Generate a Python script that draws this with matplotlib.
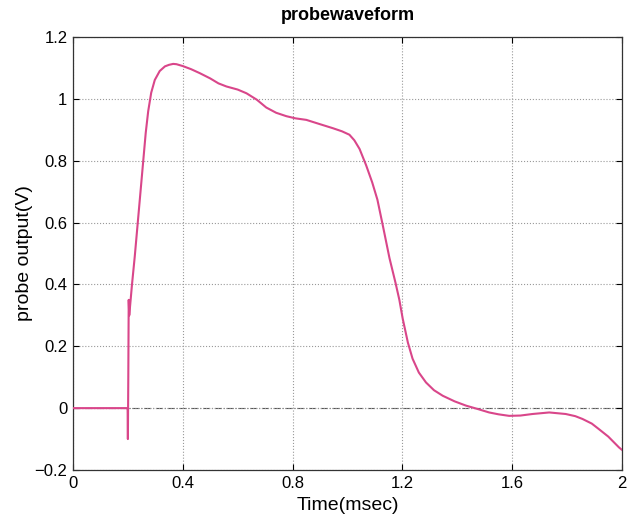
import matplotlib
matplotlib.use("Agg")
import matplotlib.pyplot as plt

plt.rcParams['font.family'] = ['Liberation Sans', 'DejaVu Sans']

time_ms = [0.00, 0.05, 0.10, 0.15, 0.195, 0.199, 0.200, 0.2015, 0.203, 0.205, 0.207,
           0.215, 0.225, 0.238, 0.247, 0.256, 0.265, 0.274, 0.285, 0.298, 0.316, 0.335,
           0.350, 0.365, 0.377,
           0.40, 0.43, 0.462, 0.50, 0.53, 0.559, 0.60, 0.632, 0.67, 0.704, 0.74, 0.777,
           0.81, 0.85, 0.90, 0.947, 0.98, 1.007, 1.025, 1.044, 1.068, 1.09, 1.109,
           1.13, 1.153, 1.175, 1.189, 1.201, 1.22, 1.237, 1.26, 1.286, 1.315, 1.347,
           1.39, 1.432, 1.475, 1.516, 1.55, 1.589, 1.63, 1.674, 1.735, 1.795, 1.83,
           1.856, 1.89, 1.916, 1.95, 1.989, 2.00]
probe_v = [0.000, 0.000, 0.000, 0.000, 0.000, 0.000, -0.100, 0.100, 0.350, 0.300, 0.320,
           0.400, 0.490, 0.620, 0.710, 0.800, 0.890, 0.960, 1.020, 1.061, 1.090, 1.105,
           1.110, 1.113, 1.112,
           1.106, 1.096, 1.083, 1.066, 1.050, 1.040, 1.030, 1.018, 0.997, 0.972, 0.955, 0.944,
           0.937, 0.932, 0.918, 0.905, 0.895, 0.884, 0.866, 0.838, 0.785, 0.730, 0.674,
           0.585, 0.485, 0.405, 0.350, 0.290, 0.212, 0.160, 0.115, 0.083, 0.058, 0.040,
           0.022, 0.008, -0.003, -0.014, -0.020, -0.025, -0.024, -0.019, -0.014, -0.019, -0.026,
           -0.035, -0.050, -0.068, -0.092, -0.127, -0.135]

x_ticks = [0, 0.4, 0.8, 1.2, 1.6, 2]
x_tick_labels = ['0', '0.4', '0.8', '1.2', '1.6', '2']
y_ticks = [-0.2, 0, 0.2, 0.4, 0.6, 0.8, 1.0, 1.2]
y_tick_labels = ['\u22120.2', '0', '0.2', '0.4', '0.6', '0.8', '1', '1.2']

fig = plt.figure(figsize=(6.33, 5.18), dpi=100)
ax = fig.add_axes([0.1153, 0.0927, 0.8673, 0.8359])

ax.axhline(0, color='#555555', lw=0.8, ls='-.', zorder=1)
ax.plot(time_ms, probe_v, color='#d9468a', lw=1.5, zorder=3)

ax.set_xlim(0, 2)
ax.set_ylim(-0.2, 1.2)
ax.set_xticks(x_ticks)
ax.set_xticklabels(x_tick_labels)
ax.set_yticks(y_ticks)
ax.set_yticklabels(y_tick_labels)
ax.grid(True, color='#999999', ls=':', lw=0.8)
ax.tick_params(direction='in', top=True, right=True, labelsize=12, length=4, pad=4)
for s in ax.spines.values():
    s.set_linewidth(0.9)
    s.set_color('#333333')

ax.set_title('probewaveform', fontsize=13, fontweight='bold', pad=12)
ax.set_xlabel('Time(msec)', fontsize=14, labelpad=5)
ax.set_ylabel('probe output(V)', fontsize=14, labelpad=1)

fig.savefig('out.png', dpi=100, facecolor='white')
